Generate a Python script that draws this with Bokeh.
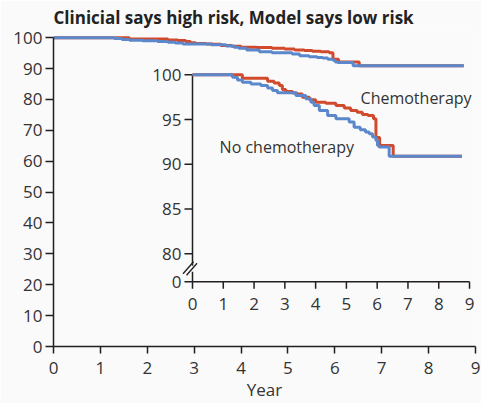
from bokeh.plotting import figure
from bokeh.models import Range1d, FixedTicker
from bokeh.core.properties import value
from bokeh.embed import file_html
from bokeh.resources import INLINE

# ---------------- data ----------------
title_text = "Clinicial says high risk, Model says low risk"
x_label = "Year"
main_x_ticks = [0, 1, 2, 3, 4, 5, 6, 7, 8, 9]
main_y_ticks = [0, 10, 20, 30, 40, 50, 60, 70, 80, 90, 100]
inset_x_ticks = [0, 1, 2, 3, 4, 5, 6, 7, 8, 9]
inset_y_ticks = [80, 85, 90, 95, 100]

chemo_years = [0, 1.62, 2.44, 2.65, 2.82, 2.92, 3.03, 3.25, 3.40, 3.57, 3.80, 4.00,
               4.33, 4.66, 4.93, 5.14, 5.35, 5.52, 5.70, 5.88, 5.96, 6.08, 6.52, 8.75]
chemo_surv = [100, 99.60, 99.28, 99.09, 98.80, 98.35, 98.13, 97.95, 97.86, 97.49, 97.20, 96.94,
              96.83, 96.57, 96.30, 96.00, 95.82, 95.57, 95.45, 95.08, 93.00, 92.10, 90.89, 90.89]
nochemo_years = [0, 1.30, 1.46, 1.62, 1.90, 2.22, 2.44, 2.60, 2.76, 3.36, 3.68, 3.85, 3.95,
                 4.12, 4.39, 4.66, 5.09, 5.25, 5.45, 5.62, 5.74, 5.85, 5.96, 6.01, 6.06, 6.39, 8.75]
nochemo_surv = [100, 99.72, 99.42, 99.16, 98.98, 98.80, 98.53, 98.24, 97.98, 97.68, 97.31, 96.94, 96.57,
                96.00, 95.45, 95.08, 94.71, 94.15, 93.85, 93.60, 93.41, 93.04, 92.67, 92.10, 91.93, 90.89, 90.89]

# ---------------- style ----------------
RED = "#d04a2b"
BLUE = "#5b87cb"
AX = "#231f20"
TXT = "#333333"
BG = "#fafafa"
FONT = "Open Sans"
FS = "17px"
LFS = "16px"

W, H = 481, 403
ML, MR, MT, MB = 53, 6, 31, 56
FW, FH = W - ML - MR, H - MT - MB

p = figure(width=W, height=H, output_backend="svg", toolbar_location=None,
           x_range=Range1d(0, 9), y_range=Range1d(0, 102),
           min_border_left=ML, min_border_right=MR, min_border_top=MT, min_border_bottom=MB,
           background_fill_color=BG, border_fill_color=BG, outline_line_color=None)
p.grid.visible = False

p.title.text = title_text
p.title.align = "left"
p.title.vertical_align = "top"
p.title.text_font = FONT
p.title.text_font_size = FS
p.title.text_font_style = "bold"
p.title.text_color = "#222222"
p.title.text_line_height = 0.6
p.title.standoff = 2

for ax in (p.xaxis[0], p.yaxis[0]):
    ax.axis_line_color = AX
    ax.axis_line_width = 1.5
    ax.major_tick_line_color = AX
    ax.major_tick_line_width = 1.5
    ax.major_tick_in = 0
    ax.minor_tick_line_color = None
    ax.major_label_text_font = FONT
    ax.major_label_text_font_size = FS
    ax.major_label_text_color = TXT

p.xaxis.ticker = FixedTicker(ticks=main_x_ticks)
p.xaxis.bounds = (0, 9)
p.xaxis.major_tick_out = 7
p.xaxis.major_label_standoff = 8
p.xaxis.axis_label = x_label
p.xaxis.axis_label_standoff = 1
p.xaxis.axis_label_text_font = FONT
p.xaxis.axis_label_text_font_size = FS
p.xaxis.axis_label_text_font_style = "normal"
p.xaxis.axis_label_text_color = TXT

p.yaxis.ticker = FixedTicker(ticks=main_y_ticks)
p.yaxis.bounds = (0, 100)
p.yaxis.major_tick_out = 8
p.yaxis.major_label_standoff = 3

# main curves
p.step(chemo_years, chemo_surv, mode="after", line_color=RED, line_width=3)
p.step(nochemo_years, nochemo_surv, mode="after", line_color=BLUE, line_width=3)

# ---------------- inset (extra ranges) ----------------
INSET_X0_PX = 139.0      # inset year 0 offset from main frame left, px
INSET_PX_PER_YR = 30.78
INSET_V80_PX = 93.0      # inset value 80 height above main frame bottom, px
INSET_PX_PER_V = 8.98
ix_start = -INSET_X0_PX / INSET_PX_PER_YR
ix_end = (FW - INSET_X0_PX) / INSET_PX_PER_YR
iy_start = 80 - INSET_V80_PX / INSET_PX_PER_V
iy_end = 80 + (FH - INSET_V80_PX) / INSET_PX_PER_V
ZERO_POS = 80 - 28.0 / INSET_PX_PER_V   # where the broken-axis "0" sits
p.extra_x_ranges = {"ix": Range1d(ix_start, ix_end)}
p.extra_y_ranges = {"iy": Range1d(iy_start, iy_end)}
R = dict(x_range_name="ix", y_range_name="iy")

xt_len = 7.0 / INSET_PX_PER_V
yt_len = 8.0 / INSET_PX_PER_YR
gap_top = 80 - 12.0 / INSET_PX_PER_V
gap_bot = 80 - 18.0 / INSET_PX_PER_V

# axis lines (with a break in the y axis)
p.segment(x0=[0, 0, 0], y0=[100, gap_bot, ZERO_POS],
          x1=[0, 0, inset_x_ticks[-1]], y1=[gap_top, ZERO_POS, ZERO_POS],
          line_color=AX, line_width=1.5, **R)
# break marks
sx = 10.5 / INSET_PX_PER_YR
sy = 12.0 / INSET_PX_PER_V
b1 = 80 - 20.0 / INSET_PX_PER_V
b2 = 80 - 21.5 / INSET_PX_PER_V
d = 3.5 / INSET_PX_PER_YR
p.segment(x0=[-sx * 0.9, -sx * 0.9 + d], y0=[b1, b2],
          x1=[sx * 0.1, sx * 0.1 + d], y1=[b1 + sy, b2 + sy],
          line_color=AX, line_width=1.3, **R)
# ticks
p.segment(x0=inset_x_ticks, y0=[ZERO_POS] * len(inset_x_ticks),
          x1=inset_x_ticks, y1=[ZERO_POS - xt_len] * len(inset_x_ticks),
          line_color=AX, line_width=1.5, **R)
iy_pos = inset_y_ticks + [ZERO_POS]
iy_lab = [str(v) for v in inset_y_ticks] + ["0"]
p.segment(x0=[0] * len(iy_pos), y0=iy_pos, x1=[-yt_len] * len(iy_pos), y1=iy_pos,
          line_color=AX, line_width=1.5, **R)
# tick labels
p.text(x=[0] * len(iy_pos), y=iy_pos, text=iy_lab, x_offset=-11,
       text_align="right", text_baseline="middle", text_font=value(FONT),
       text_font_size=FS, text_color=TXT, **R)
p.text(x=inset_x_ticks, y=[ZERO_POS] * len(inset_x_ticks), text=[str(t) for t in inset_x_ticks],
       y_offset=22, text_align="center", text_baseline="middle", text_font=value(FONT),
       text_font_size=FS, text_color=TXT, **R)

# inset curves
p.step(chemo_years, chemo_surv, mode="after", line_color=RED, line_width=3, **R)
p.step(nochemo_years, nochemo_surv, mode="after", line_color=BLUE, line_width=3, **R)

# series labels
p.text(x=[5.46], y=[97.35], text=["Chemotherapy"], text_align="left", text_baseline="middle",
       text_font=value(FONT), text_font_size=LFS, text_color=TXT, **R)
p.text(x=[0.88], y=[91.9], text=["No chemotherapy"], text_align="left", text_baseline="middle",
       text_font=value(FONT), text_font_size=LFS, text_color=TXT, **R)

open("out.html", "w").write(file_html(p, INLINE))
